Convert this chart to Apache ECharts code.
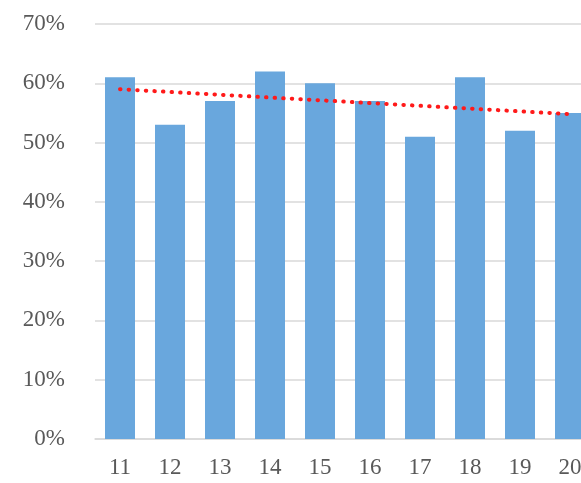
<!DOCTYPE html>
<html><head><meta charset="utf-8">
<script src="https://cdn.jsdelivr.net/npm/echarts@6/dist/echarts.min.js"></script>
<style>html,body{margin:0;padding:0;background:#fff;overflow:hidden}#c{width:600px;height:483px}</style>
</head><body><div id="c"></div>
<script>
const categories = ['11','12','13','14','15','16','17','18','19','20'];
const values = [61, 53, 57, 62, 60, 57, 51, 61, 52, 55];
const trend = [59.0, null, null, null, null, null, null, null, null, 54.8];
const yTicks = [0, 70, 10];
const chart = echarts.init(document.getElementById('c'), null, {renderer:'canvas'});
const font = 'Liberation Serif';
chart.setOption({
  animation:false,
  grid:{left:95, width:500, top:24, height:415},
  xAxis:{type:'category', data:categories,
    axisLine:{lineStyle:{color:'#d9d9d9', width:1.5}}, axisTick:{show:false},
    axisLabel:{color:'#595959', fontFamily:font, fontSize:23, margin:17}},
  yAxis:{type:'value', min:yTicks[0], max:yTicks[1], interval:yTicks[2],
    axisLine:{show:false}, axisTick:{show:false},
    splitLine:{lineStyle:{color:'#d9d9d9', width:1.5}},
    axisLabel:{color:'#595959', fontFamily:font, fontSize:23, margin:30, formatter:'{value}%'}},
  series:[
    {type:'bar', data:values, barWidth:30, itemStyle:{color:'#69a7dd'}},
    {type:'line', data:trend, connectNulls:true, symbol:'none', z:5,
     lineStyle:{color:'#ff1a1a', width:4, type:[0.5, 8.1], cap:'round'}}
  ]
});
</script></body></html>
